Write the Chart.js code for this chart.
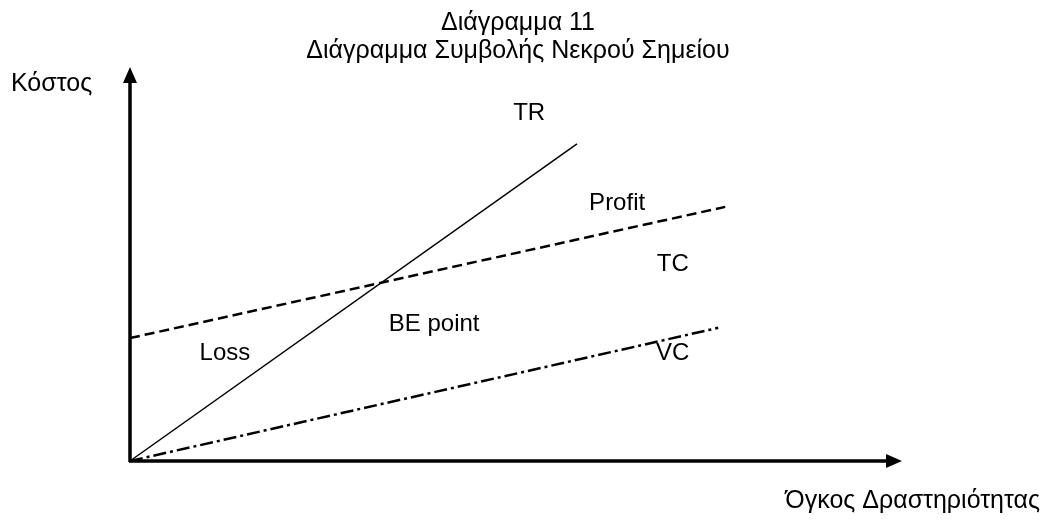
<!DOCTYPE html>
<html>
<head>
<meta charset="utf-8">
<script src="https://cdn.jsdelivr.net/npm/chart.js@4/dist/chart.umd.min.js"></script>
<style>
  body { margin: 0; background: #fff; }
  #wrap { width: 1041px; height: 521px; }
</style>
</head>
<body>
<div id="wrap"><canvas id="chart"></canvas></div>
<script>
// Break-even chart data (arbitrary units, 0..100 on both axes)
const volume = [0, 100];
const trX = [0, 57.9];
const trY = [0, 80.5];
const tcX = [0, 77.1];
const tcY = [31.2, 64.5];
const vcX = [0, 76.2];
const vcY = [0, 33.8];

// Region labels
const labelTexts = ["TR", "Profit", "TC", "BE point", "Loss", "VC"];
const labelX = [51.7, 63.1, 70.3, 39.4, 12.3, 70.3];
const labelY = [88.3, 65.5, 50.0, 34.8, 27.2, 27.2];

const titleLines = ["Διάγραμμα 11", "Διάγραμμα Συμβολής Νεκρού Σημείου"];
const yTitle = "Κόστος";
const xTitle = "Όγκος Δραστηριότητας";

const FONT = '24px "Liberation Sans", Arial, sans-serif';
const BIG_FONT = '25px "Liberation Sans", Arial, sans-serif';

function pts(xs, ys) {
    return xs.map((x, i) => ({ x: x, y: ys[i] }));
}

// Draw axes with arrows, titles and labels
const decorations = {
    id: "decorations",
    afterDatasetsDraw(chart) {
        const ctx = chart.ctx;
        const xs = chart.scales.x;
        const ys = chart.scales.y;
        const x0 = xs.getPixelForValue(volume[0]);
        const y0 = ys.getPixelForValue(0);
        const xEnd = xs.getPixelForValue(volume[1]);
        const yEnd = ys.getPixelForValue(100);

        ctx.save();
        ctx.strokeStyle = "#000";
        ctx.fillStyle = "#000";
        ctx.lineWidth = 3.5;
        ctx.beginPath();
        ctx.moveTo(x0, y0 + 1);
        ctx.lineTo(x0, yEnd + 14);
        ctx.moveTo(x0 - 1, y0);
        ctx.lineTo(xEnd - 14, y0);
        ctx.stroke();

        // arrow heads
        ctx.beginPath();
        ctx.moveTo(x0, yEnd);
        ctx.lineTo(x0 - 7, yEnd + 16);
        ctx.lineTo(x0 + 7, yEnd + 16);
        ctx.closePath();
        ctx.fill();
        ctx.beginPath();
        ctx.moveTo(xEnd, y0);
        ctx.lineTo(xEnd - 16, y0 - 7);
        ctx.lineTo(xEnd - 16, y0 + 7);
        ctx.closePath();
        ctx.fill();

        ctx.font = BIG_FONT;
        ctx.textBaseline = "middle";
        ctx.textAlign = "center";
        ctx.fillText(titleLines[0], 518, 23);
        ctx.fillText(titleLines[1], 518, 51);

        ctx.textAlign = "left";
        ctx.fillText(yTitle, 11, 84);
        ctx.textAlign = "right";
        ctx.fillText(xTitle, 1040, 501);

        ctx.font = FONT;
        ctx.textAlign = "center";
        labelTexts.forEach((t, i) => {
            ctx.fillText(t, xs.getPixelForValue(labelX[i]), ys.getPixelForValue(labelY[i]));
        });
        ctx.restore();
    },
};

new Chart(document.getElementById("chart"), {
    type: "line",
    data: {
        datasets: [
            {
                label: "TR",
                data: pts(trX, trY),
                borderColor: "#000",
                borderWidth: 1.5,
            },
            {
                label: "TC",
                data: pts(tcX, tcY),
                borderColor: "#000",
                borderWidth: 2.5,
                borderDash: [10, 5],
            },
            {
                label: "VC",
                data: pts(vcX, vcY),
                borderColor: "#000",
                borderWidth: 2.5,
                borderDash: [13, 4, 3, 4],
            },
        ],
    },
    options: {
        responsive: true,
        maintainAspectRatio: false,
        animation: false,
        layout: { padding: { left: 130, right: 139, top: 67, bottom: 60 } },
        elements: { point: { radius: 0 }, line: { tension: 0 } },
        datasets: { line: { clip: false } },
        scales: {
            x: { type: "linear", min: 0, max: 100, display: false },
            y: { type: "linear", min: 0, max: 100, display: false },
        },
        plugins: {
            legend: { display: false },
            tooltip: { enabled: false },
        },
    },
    plugins: [decorations],
});
</script>
</body>
</html>
